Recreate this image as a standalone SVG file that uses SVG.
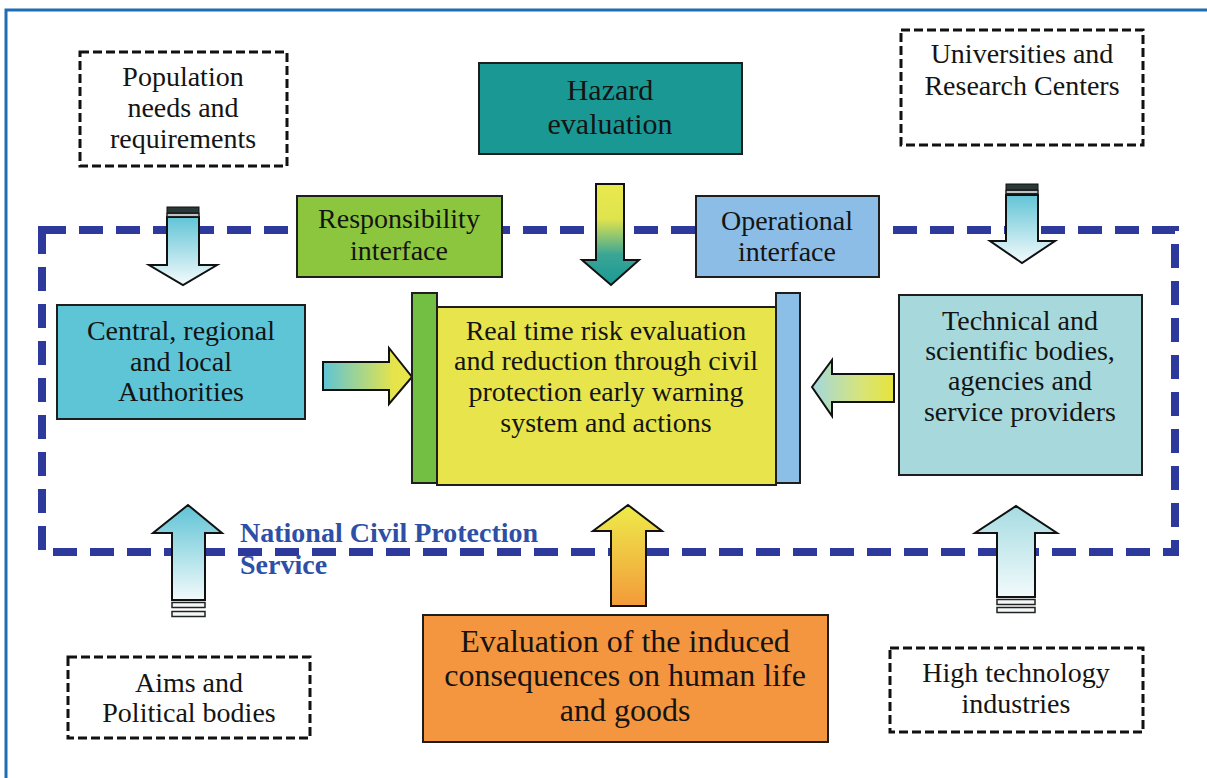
<svg xmlns="http://www.w3.org/2000/svg" width="1207" height="778" viewBox="0 0 1207 778">
<style>
text{font-family:"Liberation Serif","Times New Roman",serif;fill:#141414;text-anchor:middle}
.t28{font-size:28px}
.t30{font-size:30px}
.t32{font-size:32px}
.dash{fill:#ffffff;stroke:#111;stroke-width:3;stroke-dasharray:9 4}
.box{stroke:#1e1e1e;stroke-width:2}
.arr{stroke:#111;stroke-width:2;stroke-linejoin:miter}
.bar{fill:#f4f8f8;stroke:#222;stroke-width:1.5}
.ncps{font-family:"Liberation Serif","Times New Roman",serif;font-weight:bold;font-size:28px;fill:#2e4fa6;text-anchor:start}
</style>
<defs>
<linearGradient id="gDownCyan" x1="0" y1="0" x2="0" y2="1"><stop offset="0" stop-color="#62c4d6"/><stop offset="1" stop-color="#f4fbfc"/></linearGradient>
<linearGradient id="gUpCyan" x1="0" y1="0" x2="0" y2="1"><stop offset="0" stop-color="#5fc3d5"/><stop offset="1" stop-color="#f2fafb"/></linearGradient>
<linearGradient id="gUpPale" x1="0" y1="0" x2="0" y2="1"><stop offset="0" stop-color="#a6dce2"/><stop offset="1" stop-color="#f2fafb"/></linearGradient>
<linearGradient id="gHaz" x1="0" y1="0" x2="0" y2="1"><stop offset="0" stop-color="#e9e94c"/><stop offset="0.35" stop-color="#dfe34e"/><stop offset="0.7" stop-color="#3aa596"/><stop offset="1" stop-color="#1a9994"/></linearGradient>
<linearGradient id="gOrange" x1="0" y1="0" x2="0" y2="1"><stop offset="0" stop-color="#eeec4a"/><stop offset="1" stop-color="#f39a3a"/></linearGradient>
<linearGradient id="gRight" x1="0" y1="0" x2="1" y2="0"><stop offset="0" stop-color="#5ec4d6"/><stop offset="0.8" stop-color="#e6e44a"/><stop offset="1" stop-color="#e8e64a"/></linearGradient>
<linearGradient id="gLeft" x1="0" y1="0" x2="1" y2="0"><stop offset="0" stop-color="#a2d8de"/><stop offset="0.6" stop-color="#d8e47a"/><stop offset="1" stop-color="#e6e43a"/></linearGradient>
</defs>
<rect x="0" y="0" width="1207" height="778" fill="#ffffff"/>
<path d="M6,778 V10 H1207" fill="none" stroke="#1e6db5" stroke-width="3"/>

<g id="ncps-region">
<rect x="42" y="230" width="1133" height="322" fill="none" stroke="#2d3a9b" stroke-width="8" stroke-dasharray="24 13"/>
</g>

<g id="connectors">
<!-- population down arrow -->
<polygon class="arr" fill="url(#gDownCyan)" points="167,217 199,217 199,265 217,265 183,285 149,265 167,265"/>
<rect x="167" y="207" width="32" height="6" fill="#2b3838" stroke="#111" stroke-width="1"/>
<rect x="167" y="213.5" width="32" height="3" class="bar"/>
<!-- universities down arrow -->
<polygon class="arr" fill="url(#gDownCyan)" points="1006,195 1038,195 1038,241 1055,241 1022,263 990,241 1006,241"/>
<rect x="1006" y="184" width="32" height="6" fill="#2b3838" stroke="#111" stroke-width="1"/>
<rect x="1006" y="190.5" width="32" height="3" class="bar"/>
<!-- hazard down arrow -->
<polygon class="arr" fill="url(#gHaz)" points="596,184 624,184 624,260 639,260 611,285 582,260 596,260"/>
<!-- central -> center -->
<polygon class="arr" fill="url(#gRight)" points="323,362 389,362 389,348 412,377 389,404 389,390 323,390"/>
<!-- technical -> center -->
<polygon class="arr" fill="url(#gLeft)" points="894,374 832,374 832,360 812,387 832,416 832,402 894,402"/>
<!-- aims up arrow -->
<polygon class="arr" fill="url(#gUpCyan)" points="172,600 205,600 205,533 222,533 188,505 153,533 172,533"/>
<rect x="172" y="602.5" width="33" height="5" class="bar"/>
<rect x="172" y="611.5" width="33" height="5" class="bar"/>
<!-- evaluation up arrow -->
<polygon class="arr" fill="url(#gOrange)" points="611,606 646,606 646,531 662,531 628,505 593,531 611,531"/>
<!-- high tech up arrow -->
<polygon class="arr" fill="url(#gUpPale)" points="997,597 1035,597 1035,533 1057,533 1016,506 975,533 997,533"/>
<rect x="997" y="599.5" width="38" height="5" class="bar"/>
<rect x="997" y="607.5" width="38" height="5" class="bar"/>
</g>

<g id="population">
<rect x="80" y="52" width="207" height="114" class="dash"/>
<text class="t28" x="183" y="86">Population</text>
<text class="t28" x="183" y="117">needs and</text>
<text class="t28" x="183" y="148">requirements</text>
</g>

<g id="hazard">
<rect x="479" y="63" width="263" height="91" class="box" fill="#1a9994"/>
<text class="t30" x="610" y="100">Hazard</text>
<text class="t30" x="610" y="134">evaluation</text>
</g>

<g id="universities">
<rect x="901" y="30" width="242" height="115" class="dash"/>
<text class="t28" x="1022" y="63">Universities and</text>
<text class="t28" x="1022" y="95">Research Centers</text>
</g>

<g id="responsibility">
<rect x="297" y="196" width="205" height="81" class="box" fill="#8cc63e"/>
<text class="t28" x="399" y="228">Responsibility</text>
<text class="t28" x="399" y="260">interface</text>
</g>

<g id="operational">
<rect x="696" y="196" width="183" height="81" class="box" fill="#8cbde6"/>
<text class="t28" x="787" y="230">Operational</text>
<text class="t28" x="787" y="261">interface</text>
</g>

<g id="central">
<rect x="57" y="305" width="248" height="114" class="box" fill="#5ec5d7"/>
<text class="t28" x="181" y="340">Central, regional</text>
<text class="t28" x="181" y="371">and local</text>
<text class="t28" x="181" y="401">Authorities</text>
</g>

<g id="core">
<rect x="412" y="293" width="25" height="190" class="box" fill="#72bf44"/>
<rect x="776" y="293" width="24" height="190" class="box" fill="#8bbfe8"/>
<rect x="437" y="307" width="339" height="178" class="box" fill="#e7e54b"/>
<text class="t28" x="606" y="340">Real time risk evaluation</text>
<text class="t28" x="606" y="370">and reduction through civil</text>
<text class="t28" x="606" y="401">protection early warning</text>
<text class="t28" x="606" y="432">system and actions</text>
</g>

<g id="technical">
<rect x="899" y="295" width="243" height="180" class="box" fill="#a7d9dc"/>
<text class="t28" x="1020" y="330">Technical and</text>
<text class="t28" x="1020" y="360">scientific bodies,</text>
<text class="t28" x="1020" y="390">agencies and</text>
<text class="t28" x="1020" y="421">service providers</text>
</g>

<g id="ncps-label">
<text class="ncps" x="240" y="542">National Civil Protection</text>
<text class="ncps" x="240" y="574">Service</text>
</g>

<g id="aims">
<rect x="68" y="657" width="242" height="81" class="dash"/>
<text class="t28" x="189" y="692">Aims and</text>
<text class="t28" x="189" y="722">Political bodies</text>
</g>

<g id="evaluation">
<rect x="423" y="615" width="405" height="127" class="box" fill="#f4963f"/>
<text class="t32" x="625" y="652">Evaluation of the induced</text>
<text class="t32" x="625" y="686">consequences on human life</text>
<text class="t32" x="625" y="721">and goods</text>
</g>

<g id="hightech">
<rect x="890" y="648" width="253" height="84" class="dash"/>
<text class="t28" x="1016" y="682">High technology</text>
<text class="t28" x="1016" y="713">industries</text>
</g>
</svg>
